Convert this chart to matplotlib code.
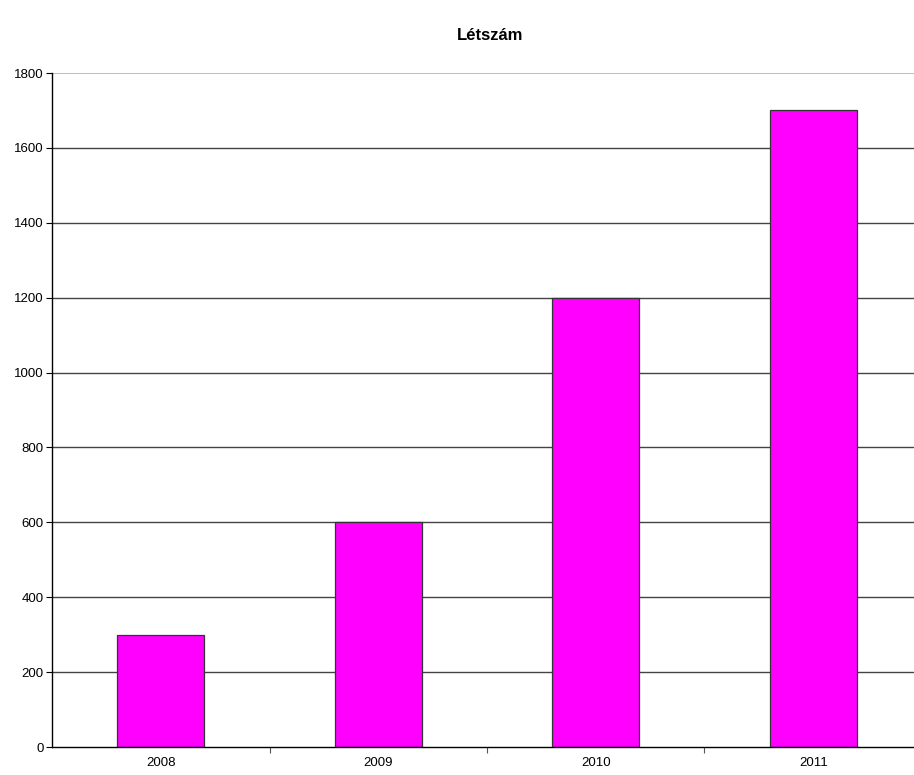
import numpy as np
import matplotlib
matplotlib.use("Agg")
import matplotlib.pyplot as plt

years = ["2008", "2009", "2010", "2011"]
letszam = [300, 600, 1200, 1700]

plt.rcParams['font.family'] = ['Liberation Sans', 'DejaVu Sans']

W, H = 914, 775
fig = plt.figure(figsize=(W / 100, H / 100), dpi=100)
left, right, top, bottom = 52, 922, 73, 747
ax = fig.add_axes([left / W, 1 - bottom / H, (right - left) / W, (bottom - top) / H])

x = np.arange(len(years))
ax.set_axisbelow(True)
for v in range(200, 1800, 200):
    ax.axhline(v, color="#444444", lw=1, zorder=0)
ax.axhline(1800, color="#c0c0c0", lw=1.5, zorder=0)

ax.bar(x, letszam, width=0.4, color="#ff00ff", edgecolor="#333333", lw=0.9, zorder=2)

ax.set_xlim(-0.5, len(years) - 0.5)
ax.set_ylim(0, 1800)
ax.set_yticks(range(0, 1801, 200))
ax.set_xticks(x)
ax.set_xticklabels(years, fontsize=9.5)
ax.tick_params(axis="x", length=0, pad=7)
ax.set_xticks(np.arange(0.5, len(years) - 0.5, 1), minor=True)
ax.tick_params(axis="x", which="minor", length=4, width=0.8, color="#555555")
ax.tick_params(axis="y", labelsize=9.5, length=4, width=0.8, pad=2)

for s in ["top", "right"]:
    ax.spines[s].set_visible(False)
ax.spines["left"].set_linewidth(1)
ax.spines["bottom"].set_linewidth(1)

fig.text(490 / W, 1 - 35 / H, "Létszám", ha="center", va="center", fontsize=12, fontweight="bold")

fig.savefig("out.png", dpi=100)
